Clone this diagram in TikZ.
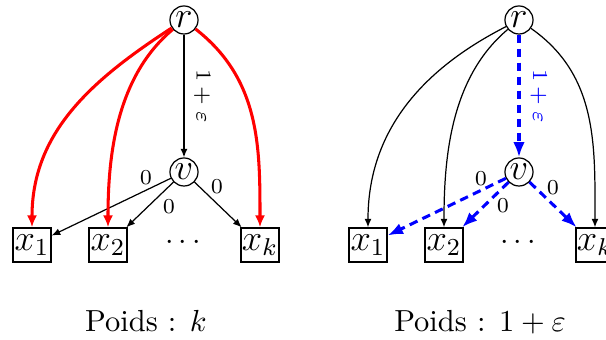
\documentclass[tikz,border=0pt]{standalone}
\usetikzlibrary{arrows.meta}
\begin{document}
\begin{tikzpicture}[x=0.328pt,y=-0.328pt,
 vert/.style={draw,circle,inner sep=0pt,minimum size=9.2pt,line width=0.4pt,font=\fontsize{11.5}{13}\selectfont},
 leaf/.style={draw,rectangle,inner sep=0pt,minimum width=12.5pt,minimum height=11.2pt,line width=0.4pt,font=\fontsize{11.5}{13}\selectfont},
 wlab/.style={font=\fontsize{7}{8}\selectfont,inner sep=0pt},
 thinarr/.style={line width=0.4pt,-{Latex[length=2.8pt,width=2.3pt]}},
 redarr/.style={red,line width=1pt,-{Latex[length=3.9pt,width=3.3pt]}},
 bluearr/.style={blue,line width=1pt,dash pattern=on 2.8pt off 1.8pt,-{Latex[length=5pt,width=3.8pt]}},
 capt/.style={anchor=base,inner sep=0pt,font=\fontsize{10}{12}\selectfont}]
\clip (0,0) rectangle (606,340);
% ---------- left ----------
\node[vert] (r) at (184,20) {$r$};
\node[vert] (v) at (184,172) {$v$};
\node[leaf] (x1) at (32,245) {$x_1$};
\node[leaf] (x2) at (108,245) {$x_2$};
\node[leaf] (xk) at (260,245) {$x_k$};
\node (d) at (183,243) {$\cdots$};
\draw[thinarr] (r) -- (v) node[pos=0.5,xshift=6pt,wlab,rotate=-90] (w) {$1+\varepsilon$};
\draw[thinarr] (v) -- (x1);
\draw[thinarr] (v) -- (x2);
\draw[thinarr] (v) -- (xk);
\node[wlab] (z1) at (146,178) {$0$};
\node[wlab] (z2) at (169,207) {$0$};
\node[wlab] (z3) at (217,187) {$0$};
\draw[redarr] (r) to[out=213,in=90] (x1);
\draw[redarr] (r) to[out=220,in=90,looseness=0.9] (x2);
\draw[redarr] (r) to[out=-38,in=90] (xk);
\node[capt] (c1) at (146,332) {Poids : $k$};
% ---------- right ----------
\node[vert] (R) at (519,20) {$r$};
\node[vert] (V) at (519,172) {$v$};
\node[leaf] (X1) at (368,245) {$x_1$};
\node[leaf] (X2) at (444,245) {$x_2$};
\node[leaf] (XK) at (595,245) {$x_k$};
\node (D) at (518,243) {$\cdots$};
\draw[thinarr] (R) to[out=207,in=90] (X1);
\draw[thinarr] (R) to[out=220,in=90,looseness=0.9] (X2);
\draw[thinarr] (R) to[out=-35,in=90] (XK);
\draw[bluearr] (R) -- (V) node[pos=0.5,xshift=6.5pt,wlab,rotate=-90,text=blue] (W) {$1+\varepsilon$};
\draw[bluearr] (V) -- (X1);
\draw[bluearr] (V) -- (X2);
\draw[bluearr] (V) -- (XK);
\node[wlab] (Z1) at (481,179) {$0$};
\node[wlab] (Z2) at (503,206) {$0$};
\node[wlab] (Z3) at (553,188) {$0$};
\node[capt] (c2) at (480,332) {Poids : $1+\varepsilon$};
\end{tikzpicture}
\end{document}
